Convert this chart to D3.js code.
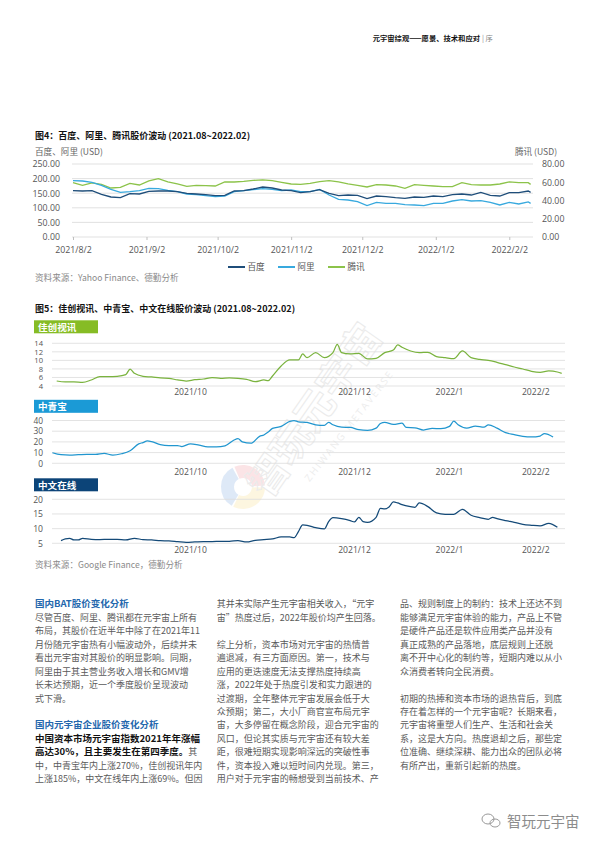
<!DOCTYPE html>
<html><head><meta charset="utf-8">
<script src="https://cdn.jsdelivr.net/npm/d3@7"></script>
<style>
body{margin:0;background:#fff}
svg{display:block}
text{font-family:"Open Sans","Noto Sans CJK SC","Noto Sans",sans-serif}
</style>
</head><body>
<svg id="c" width="600" height="848"></svg>
<script>
// ---------------- DATA ----------------
// Figure 4 (USD): Baidu & Alibaba on left axis, Tencent on right axis
const fig4Dates = ["2021-08-02","2021-08-06","2021-08-10","2021-08-14","2021-08-18","2021-08-22","2021-08-26","2021-08-30","2021-09-03","2021-09-07","2021-09-11","2021-09-15","2021-09-19","2021-09-23","2021-09-27","2021-10-01","2021-10-05","2021-10-09","2021-10-13","2021-10-17","2021-10-21","2021-10-25","2021-10-29","2021-11-02","2021-11-06","2021-11-10","2021-11-14","2021-11-18","2021-11-22","2021-11-26","2021-11-30","2021-12-04","2021-12-08","2021-12-12","2021-12-16","2021-12-20","2021-12-24","2021-12-28","2022-01-01","2022-01-05","2022-01-09","2022-01-13","2022-01-17","2022-01-21","2022-01-25","2022-01-29","2022-02-02","2022-02-06","2022-02-10","2022-02-11"];
const baiduVals = [158.7,157.5,158.7,146.1,137.0,134.7,148.4,147.3,156.4,157.5,157.5,155.3,149.5,147.3,145.0,141.6,142.7,157.5,158.7,164.4,171.2,167.8,161.0,158.7,151.8,155.3,162.1,149.5,141.6,143.8,142.7,131.3,140.4,138.1,134.7,132.4,137.0,135.8,140.4,138.1,145.0,147.3,143.8,153.0,142.7,140.4,151.8,151.8,157.5,153.0];
const alibabaVals = [192.9,191.8,187.2,176.9,163.2,153.0,155.3,158.7,166.7,165.5,159.8,155.3,147.3,145.0,141.6,138.1,140.4,155.3,158.7,162.1,165.5,163.2,158.7,161.0,155.3,155.3,163.2,143.8,129.0,126.7,121.0,107.3,118.7,115.3,115.3,110.7,109.6,107.3,115.3,115.3,123.3,127.9,123.3,124.4,118.7,109.6,118.7,113.0,119.9,115.3];
const tencentVals = [59.5,56.6,59.2,57.7,53.7,54.4,58.8,57.0,61.4,63.9,60.3,58.1,55.5,56.6,56.3,55.9,60.3,60.3,61.0,62.1,62.5,61.7,59.9,58.1,57.7,58.8,60.6,61.7,60.3,58.1,56.6,54.8,57.3,57.0,55.9,53.3,57.3,56.6,55.9,55.2,55.2,59.5,57.3,57.0,57.0,58.1,60.3,59.5,59.5,57.7];
const fig4TickDates = ["2021-08-02","2021-09-02","2021-10-02","2021-11-02","2021-12-02","2022-01-02","2022-02-02"];
const fig4TickLabels = ["2021/8/2","2021/9/2","2021/10/2","2021/11/2","2021/12/2","2022/1/2","2022/2/2"];
const fig4LeftTicks = [0,50,100,150,200,250];
const fig4RightTicks = [0,20,40,60,80];
const fig4Series = ["百度","阿里","腾讯"];

// Figure 5 (CNY), x = trading-day index
const jcDays = [0,2,4,6,8,10,12,14,16,17,18,20,22,24,26,28,30,32,34,36,38,40,42,44,46,48,49,50,52,54,56,57,58,60,62,64,65,66,68,70,72,74,76,78,79,80,82,84,86,88,90,92,94,96,98,100,102,104,106,108,110,112,114,116,117];
const jcVals = [5.17,4.94,4.94,4.86,5.41,6.19,6.19,6.27,6.66,7.98,6.97,6.27,6.11,5.88,5.80,5.41,5.17,5.48,5.64,5.95,5.80,5.88,5.80,5.56,5.02,5.41,5.25,6.34,8.69,10.09,10.09,11.5,10.64,11.81,10.64,11.81,13.77,11.81,11.5,11.66,10.33,10.48,11.81,12.44,13.61,13.06,12.2,11.81,11.89,10.88,10.64,10.41,12.2,10.64,10.25,10.02,9.55,9.0,8.45,7.98,7.44,7.2,7.52,7.28,6.97];
const zqbDays = [-1,1,3,5,7,9,11,13,15,17,19,20,21,22,24,26,28,29,31,33,35,37,39,41,42,43,45,47,48,49,50,52,54,55,56,58,60,62,63,64,66,68,70,72,74,75,76,78,80,81,83,85,87,89,91,92,93,95,97,99,100,102,104,106,108,110,112,113,115];
const zqbVals = [9.85,8.0,7.69,8.0,8.31,8.31,9.23,7.69,8.92,11.7,18.15,19.4,20.9,20.3,17.5,16.6,16.6,15.7,18.15,16.9,15.4,15.4,16.3,21.5,23.1,20.0,18.8,25.2,26.5,29.2,32.6,34.5,39.1,40.0,38.8,38.2,36.0,35.4,38.2,36.0,33.8,33.5,31.4,30.8,32.9,37.2,38.2,36.3,37.5,33.5,33.2,31.1,32.6,32.3,34.5,39.4,36.0,32.9,34.8,33.8,36.0,32.9,28.6,26.8,25.2,24.6,25.5,27.7,24.6];
const zwDays = [1,2,3,4,5,6,8,10,12,14,16,18,20,22,24,26,28,30,32,34,36,38,40,42,44,46,48,50,52,54,55,56,57,58,60,62,63,64,66,68,69,70,71,72,74,75,76,77,78,79,80,82,83,84,86,88,90,92,94,96,98,100,101,102,104,106,108,110,112,114,116];
const zwVals = [5.91,6.48,6.70,6.14,6.14,6.70,6.36,6.25,6.36,6.36,6.14,6.70,6.25,6.14,5.91,5.80,5.57,5.34,5.45,5.57,5.57,5.68,5.68,5.91,5.45,6.02,6.25,6.48,7.16,7.16,6.93,8.98,11.25,11.14,10.34,9.89,12.39,13.75,13.41,12.73,12.27,13.86,12.39,12.16,13.86,16.93,16.7,17.39,19.09,18.75,18.18,17.5,17.27,18.75,17.5,15.34,14.89,14.89,16.59,14.55,13.75,13.18,13.86,13.41,12.73,12.16,11.48,11.14,10.91,11.82,10.45];
const fig5TickDays = [31,69,91,111];
const fig5TickLabels = ["2021/10","2021/12","2022/1","2022/2"];
const jcTicks = [4,6,8,10,12,14];
const zqbTicks = [0,10,20,30,40];
const zwTicks = [5,10,15,20];

// ---------------- DRAW ----------------
const svg = d3.select("#c");
svg.append("rect").attr("width",600).attr("height",848).attr("fill","#fff");
const CJK = '"Noto Sans CJK SC","Noto Sans",sans-serif';

// header
svg.append("text").attr("x",480).attr("y",40.5).attr("text-anchor","end")
  .attr("font-size",7.3).attr("font-weight","bold").attr("fill","#111").style("font-family",CJK)
  .text("元宇宙综观——愿景、技术和应对");
svg.append("text").attr("x",482).attr("y",40.5).attr("font-size",7.3).attr("fill","#888").style("font-family",CJK).text("| 序");

// ---------- Figure 4 ----------
const parse = d3.timeParse("%Y-%m-%d");
svg.append("text").attr("x",35).attr("y",139).attr("font-size",9).attr("font-weight","bold").attr("fill","#111")
  .style("font-family",CJK).text("图4：百度、阿里、腾讯股价波动 (2021.08~2022.02)");
svg.append("text").attr("x",35).attr("y",154.5).attr("font-size",8.6).attr("fill","#666").style("font-family",CJK).text("百度、阿里 (USD)");
svg.append("text").attr("x",515).attr("y",154.5).attr("font-size",8.6).attr("fill","#666").style("font-family",CJK).text("腾讯 (USD)");

const x4 = d3.scaleTime().domain([parse("2021-08-02"), parse("2022-02-12")]).range([73,533]);
const yL = d3.scaleLinear().domain([0,250]).range([237,164]);
const yR = d3.scaleLinear().domain([0,80]).range([237,164]);

const g4 = svg.append("g");
g4.selectAll("line.grid").data(fig4LeftTicks).join("line")
  .attr("x1",72).attr("x2",533).attr("y1",d=>yL(d)).attr("y2",d=>yL(d))
  .attr("stroke","#d9d9d9").attr("stroke-width",0.8);

const axL = g4.append("g").attr("transform","translate(72,0)")
  .call(d3.axisLeft(yL).tickValues(fig4LeftTicks).tickFormat(d3.format(".2f")).tickSize(0).tickPadding(12));
const axR = g4.append("g").attr("transform","translate(533,0)")
  .call(d3.axisRight(yR).tickValues(fig4RightTicks).tickFormat(d3.format(".2f")).tickSize(0).tickPadding(9));
const axB = g4.append("g").attr("transform","translate(0,237)")
  .call(d3.axisBottom(x4).tickValues(fig4TickDates.map(parse)).tickFormat((d,i)=>fig4TickLabels[i]).tickSize(3).tickPadding(7));
[axL,axR,axB].forEach(a=>{
  a.select(".domain").remove();
  a.selectAll("text").attr("font-size",8.8).attr("fill","#555").style("font-family",'"Open Sans",sans-serif');
  a.selectAll("line").attr("stroke","#bfbfbf");
});

const d4 = fig4Dates.map(parse);
const lineL = d3.line().x((d,i)=>x4(d4[i])).y(d=>yL(d));
const lineR = d3.line().x((d,i)=>x4(d4[i])).y(d=>yR(d));
const colors4 = ["#1f4e7a","#38a9de","#8cc34a"];
g4.append("path").datum(tencentVals).attr("d",lineR).attr("fill","none").attr("stroke",colors4[2]).attr("stroke-width",1.3);
g4.append("path").datum(alibabaVals).attr("d",lineL).attr("fill","none").attr("stroke",colors4[1]).attr("stroke-width",1.3);
g4.append("path").datum(baiduVals).attr("d",lineL).attr("fill","none").attr("stroke",colors4[0]).attr("stroke-width",1.3);

// legend
const legX = [228,278,328];
fig4Series.forEach((s,i)=>{
  g4.append("line").attr("x1",legX[i]).attr("x2",legX[i]+17).attr("y1",267).attr("y2",267).attr("stroke",colors4[i]).attr("stroke-width",2);
  g4.append("text").attr("x",legX[i]+19.5).attr("y",270).attr("font-size",8.6).attr("fill","#555").style("font-family",CJK).text(s);
});
svg.append("text").attr("x",35).attr("y",280.5).attr("font-size",8.6).attr("fill","#8a8a8a").style("font-family",CJK).text("资料来源：Yahoo Finance、德勤分析");

// ---------- Figure 5 ----------
svg.append("text").attr("x",35).attr("y",311.5).attr("font-size",9).attr("font-weight","bold").attr("fill","#111")
  .style("font-family",CJK).text("图5：佳创视讯、中青宝、中文在线股价波动 (2021.08~2022.02)");

const x5 = d3.scaleLinear().domain([0,117]).range([56.7,561.7]);
const panels = [
  {name:"佳创视讯", box:"#86bc25", line:"#7ab33e", days:jcDays, vals:jcVals, ticks:jcTicks, dom:[4,14], rng:[386,343.3], boxY:320.3, labY:394.5, fs:7.6},
  {name:"中青宝", box:"#1b9ad6", line:"#2196cf", days:zqbDays, vals:zqbVals, ticks:zqbTicks, dom:[0,40], rng:[463.3,420.5], boxY:399.8, labY:474.5, fs:8.4},
  {name:"中文在线", box:"#0c4478", line:"#144a78", days:zwDays, vals:zwVals, ticks:zwTicks, dom:[5,20], rng:[543.3,499.3], boxY:478.3, labY:553, fs:8.6}
];

// watermark
const wm = svg.append("g").attr("opacity",0.45);
const logo = wm.append("g").attr("transform","translate(243,487)");
const arc = d3.arc().innerRadius(9).outerRadius(22);
[["#4a86d8",-2.6,-0.5],["#ee6b78",-0.4,1.5],["#f6cf57",1.6,3.6]].forEach(a=>{
  logo.append("path").attr("d",arc({startAngle:a[1],endAngle:a[2]})).attr("fill",a[0]).attr("opacity",0.4);
});
wm.append("text").attr("transform","translate(326,418) rotate(-55)").attr("text-anchor","middle")
  .attr("font-size",40).attr("font-weight","bold").attr("fill","none").attr("stroke","#d4d4d4").attr("stroke-width",1.1)
  .style("font-family",CJK).text("智玩元宇宙");
wm.append("text").attr("transform","translate(352,428) rotate(-52)").attr("text-anchor","middle")
  .attr("font-size",10).attr("letter-spacing",2).attr("fill","#d8d8d8")
  .text("ZHIWANG METAVERSE");

panels.forEach(p=>{
  const y = d3.scaleLinear().domain(p.dom).range(p.rng);
  const g = svg.append("g");
  g.append("rect").attr("x",34).attr("y",p.boxY).attr("width",64).attr("height",13).attr("fill",p.box);
  g.append("text").attr("x",38).attr("y",p.boxY+10.3).attr("font-size",9.6).attr("font-weight","bold").attr("fill","#fff")
    .style("font-family",CJK).text(p.name);
  g.selectAll("line.grid").data(p.ticks).join("line")
    .attr("x1",52).attr("x2",565).attr("y1",d=>y(d)).attr("y2",d=>y(d)).attr("stroke","#dcdcdc").attr("stroke-width",0.8);
  const ay = g.append("g").attr("transform","translate(52,0)")
    .call(d3.axisLeft(y).tickValues(p.ticks).tickSize(0).tickPadding(9));
  ay.select(".domain").remove();
  ay.selectAll("text").attr("font-size",p.fs).attr("fill","#555");
  g.selectAll("text.xl").data(fig5TickDays).join("text")
    .attr("x",d=>x5(d)).attr("y",p.labY).attr("text-anchor","middle").attr("font-size",8.6).attr("fill","#555")
    .text((d,i)=>fig5TickLabels[i]);
  const ln = d3.line().x((d,i)=>x5(p.days[i])).y(d=>y(d)).curve(d3.curveMonotoneX);
  g.append("path").datum(p.vals).attr("d",ln).attr("fill","none").attr("stroke",p.line).attr("stroke-width",1.25);
});
svg.append("text").attr("x",35).attr("y",568).attr("font-size",8.6).attr("fill","#8a8a8a").style("font-family",CJK).text("资料来源：Google Finance，德勤分析");

// ---------- Text columns ----------
const LH = 13.45, Y0 = 607.4;
const col1 = [
  [{t:"国内BAT股价变化分析",s:"h"}],
  [{t:"尽管百度、阿里、腾讯都在元宇宙上所有"}],
  [{t:"布局，其股价在近半年中除了在2021年11"}],
  [{t:"月份随元宇宙热有小幅波动外，后续并未"}],
  [{t:"看出元宇宙对其股价的明显影响。同期，"}],
  [{t:"阿里由于其主营业务收入增长和GMV增"}],
  [{t:"长未达预期，近一个季度股价呈现波动"}],
  [{t:"式下滑。"}],
  [],
  [{t:"国内元宇宙企业股价变化分析",s:"h"}],
  [{t:"中国资本市场元宇宙指数2021年年涨幅",s:"b"}],
  [{t:"高达30%，且主要发生在第四季度。",s:"b"},{t:"其"}],
  [{t:"中，中青宝年内上涨270%，佳创视讯年内"}],
  [{t:"上涨185%，中文在线年内上涨69%。但因"}]
];
const col2 = [
  [{t:"其并未实际产生元宇宙相关收入，“元宇"}],
  [{t:"宙”热度过后，2022年股价均产生回落。"}],
  [],
  [{t:"综上分析，资本市场对元宇宙的热情普"}],
  [{t:"遍退减，有三方面原因。第一，技术与"}],
  [{t:"应用的更迭速度无法支撑热度持续高"}],
  [{t:"涨，2022年处于热度引发和实力跟进的"}],
  [{t:"过渡期，全年整体元宇宙发展会低于大"}],
  [{t:"众预期；第二，大小厂商官宣布局元宇"}],
  [{t:"宙，大多停留在概念阶段，迎合元宇宙的"}],
  [{t:"风口，但论其实质与元宇宙还有较大差"}],
  [{t:"距，很难短期实现影响深远的突破性事"}],
  [{t:"件，资本投入难以短时间内兑现。第三，"}],
  [{t:"用户对于元宇宙的畅想受到当前技术、产"}]
];
const col3 = [
  [{t:"品、规则制度上的制约：技术上还达不到"}],
  [{t:"能够满足元宇宙体验的能力，产品上不管"}],
  [{t:"是硬件产品还是软件应用类产品并没有"}],
  [{t:"真正成熟的产品落地，底层规则上还脱"}],
  [{t:"离不开中心化的制约等，短期内难以从小"}],
  [{t:"众消费者转向全民消费。"}],
  [],
  [{t:"初期的热捧和资本市场的退热背后，到底"}],
  [{t:"存在着怎样的一个元宇宙呢？长期来看，"}],
  [{t:"元宇宙将重塑人们生产、生活和社会关"}],
  [{t:"系，这是大方向。热度退却之后，那些定"}],
  [{t:"位准确、继续深耕、能力出众的团队必将"}],
  [{t:"有所产出，重新引起新的热度。"}]
];
function drawCol(lines, x){
  lines.forEach((segs,i)=>{
    if(!segs.length) return;
    const t = svg.append("text").attr("x",x).attr("y",Y0+i*LH).style("font-family",CJK);
    segs.forEach(sg=>{
      const ts = t.append("tspan").text(sg.t);
      if(sg.s==="h") ts.attr("font-size",9.5).attr("font-weight","bold").attr("fill","#2467ad");
      else if(sg.s==="b") ts.attr("font-size",9.5).attr("font-weight","bold").attr("fill","#111");
      else ts.attr("font-size",9).attr("fill","#5a5a5a");
    });
  });
}
drawCol(col1,35); drawCol(col2,216.7); drawCol(col3,400);

// bottom-right logo
const lg = svg.append("g").attr("transform","translate(491,821)");
lg.append("ellipse").attr("cx",-3).attr("cy",-2).attr("rx",6).attr("ry",5).attr("fill","none").attr("stroke","#999").attr("stroke-width",1);
lg.append("ellipse").attr("cx",4).attr("cy",2).attr("rx",5).attr("ry",4).attr("fill","none").attr("stroke","#999").attr("stroke-width",1);
svg.append("text").attr("x",507).attr("y",827).attr("font-size",14.5).attr("fill","#8c8c8c").style("font-family",CJK).text("智玩元宇宙");
</script>
</body></html>
